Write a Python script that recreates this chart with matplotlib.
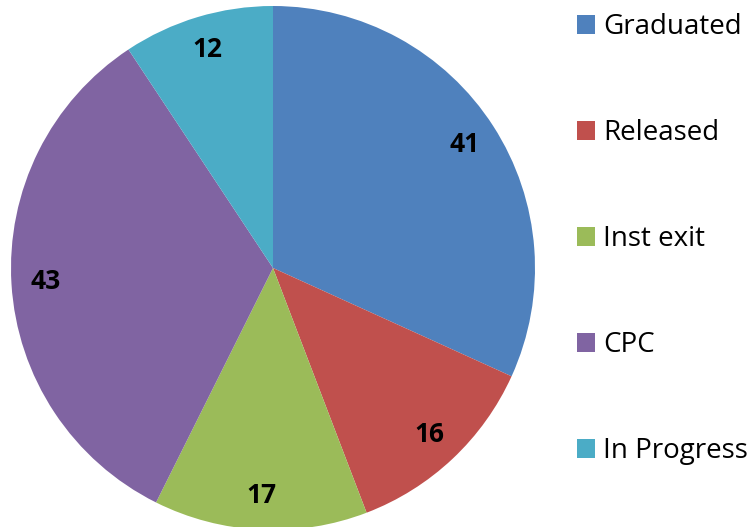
import matplotlib.pyplot as plt

labels = ['Graduated', 'Released', 'Inst exit', 'CPC', 'In Progress']
counts = [41, 16, 17, 43, 12]
colors = ['#4F81BD', '#C0504D', '#9BBB59', '#8064A2', '#4BACC6']

plt.rcParams['font.family'] = ['Open Sans', 'DejaVu Sans']

fig = plt.figure(figsize=(7.48, 5.27), dpi=100)
# pie centre at about (273, 268) px, radius about 262 px
ax = fig.add_axes([11 / 748, -3 / 527, 524 / 748, 524 / 527])

wedges, texts = ax.pie(counts, colors=colors, startangle=90, counterclock=False,
                       radius=1, labels=counts, labeldistance=0.87,
                       textprops={'fontsize': 19, 'fontweight': 'bold', 'color': 'black'},
                       wedgeprops={'linewidth': 0})
for t in texts:
    t.set_horizontalalignment('center')
    t.set_verticalalignment('center')
ax.set_xlim(-1, 1)
ax.set_ylim(-1, 1)
ax.set_aspect('equal')

fig.legend(wedges, labels, loc='upper left', bbox_to_anchor=(577 / 748, 1 - 13 / 527),
           frameon=False, fontsize=20, handlelength=0.65, handleheight=0.65,
           handletextpad=0.3, labelspacing=2.81, borderpad=0, borderaxespad=0)

fig.savefig('out.png', dpi=100)
